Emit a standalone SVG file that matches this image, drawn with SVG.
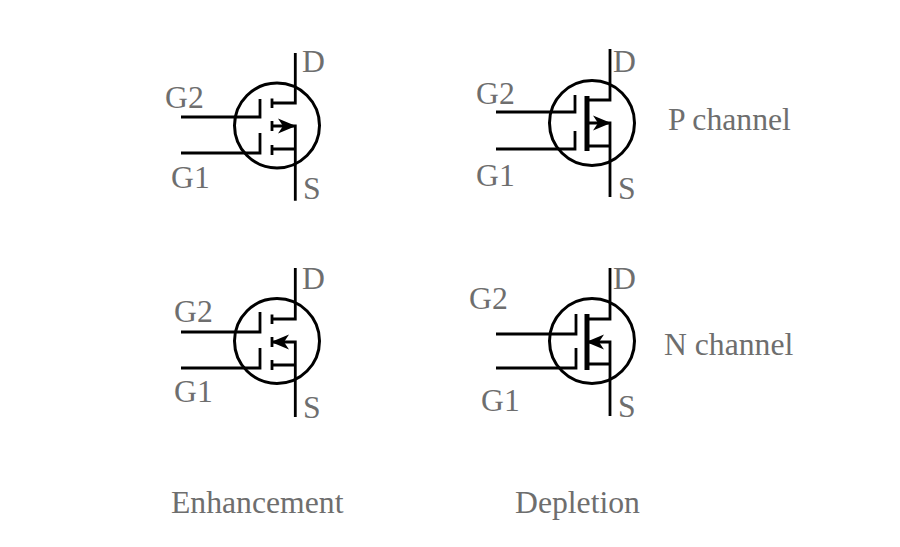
<svg xmlns="http://www.w3.org/2000/svg" width="900" height="547" viewBox="0 0 900 547">
<style>
.l{fill:none;stroke:#000;stroke-width:2.8}
.c{fill:none;stroke:#000;stroke-width:3}
.b{fill:none;stroke:#000;stroke-width:5}
.h{fill:#000;stroke:none}
text{font-family:"Liberation Serif","Times New Roman",serif;font-size:31.7px;fill:#6e6e6e}
</style>
<rect width="900" height="547" fill="#fff"/>
<g id="connectors">
<path class="l" d="M181 117H260V99M181 153H260V133"/>
<path class="l" d="M496 112H575V95M496 149H575V131"/>
<path class="l" d="M181 332H260V312M181 368H260V348"/>
<path class="l" d="M496 334H576V314M496 368H576V348"/>
</g>
<g id="enh-p">
<circle class="c" cx="277" cy="125.500" r="42.500"/>
<path class="l" d="M295.300 53V103H272M272 98.500V108M272 121V131M272 145V155M272 126H295.300V200.700M272 149H295.300"/>
<path class="h" d="M296 126L278 118.500L283 126L278 133.500Z"/>
<text x="302" y="72">D</text><text x="303" y="199">S</text><text x="165" y="108">G2</text><text x="171" y="188">G1</text>
</g>
<g id="dep-p">
<circle class="c" cx="592" cy="123" r="42.500"/>
<path class="l" d="M610 49V100H587M587 123H610V197M587 146H610"/>
<path class="b" d="M587 96V151"/>
<path class="h" d="M611 123L593 115.500L598 123L593 130.500Z"/>
<text x="613" y="72">D</text><text x="618" y="199">S</text><text x="476" y="104">G2</text><text x="476" y="186">G1</text>
<text x="668" y="130">P channel</text>
</g>
<g id="enh-n">
<circle class="c" cx="277" cy="341" r="42.500"/>
<path class="l" d="M295.300 268V319H272M272 314.500V324M272 337V347M272 360V370M272 342H295.300V417M272 365H295.300"/>
<path class="h" d="M271 342L289 334.500L284 342L289 349.500Z"/>
<text x="302" y="289">D</text><text x="303" y="418">S</text><text x="174" y="322">G2</text><text x="174" y="402">G1</text>
</g>
<g id="dep-n">
<circle class="c" cx="592" cy="341" r="42.500"/>
<path class="l" d="M610 268V319H587M587 342H610V416M587 364H610"/>
<path class="b" d="M587 314V370"/>
<path class="h" d="M586 342L604 334.500L599 342L604 349.500Z"/>
<text x="613" y="289">D</text><text x="618" y="417">S</text><text x="469" y="309">G2</text><text x="481" y="411">G1</text>
<text x="664" y="355">N channel</text>
</g>
<g id="captions">
<text x="171" y="513">Enhancement</text>
<text x="515" y="513">Depletion</text>
</g>
</svg>
